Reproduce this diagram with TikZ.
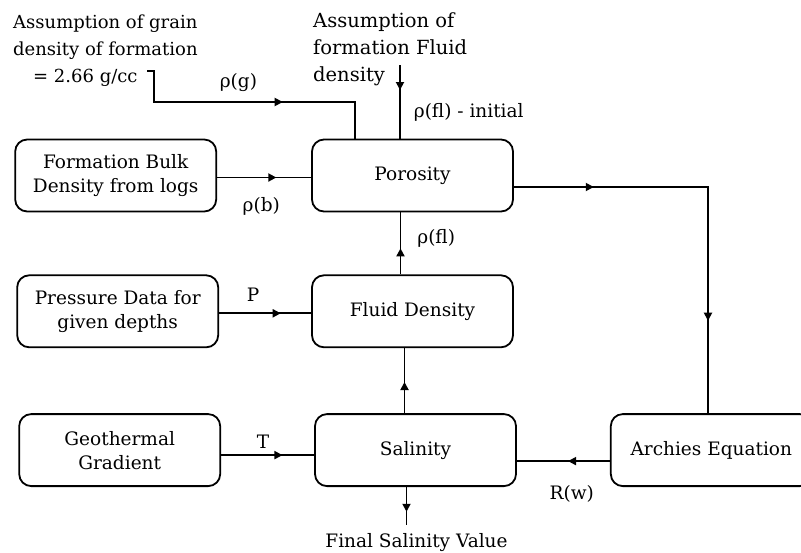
\documentclass[tikz,border=0pt]{standalone}
\usepackage{fontspec}
\setmainfont{DejaVu Serif}
\usetikzlibrary{positioning, arrows.meta, decorations.markings}
\newcommand{\midtip}{\arrow{Triangle[length=8pt, width=8pt]}}

\begin{document}
\begin{tikzpicture}[
        x=1pt, y=-1pt,
        font=\fontsize{18.5pt}{24pt}\selectfont,
        box/.style={draw, rounded corners=12pt, minimum width=201pt,
                    minimum height=72pt, align=center, line width=1.8pt, inner sep=2pt},
        line/.style={line width=1.8pt},
        flow/.style={postaction={decorate, decoration={markings,
                     mark=at position #1 with {\midtip}}}},
        lbl/.style={inner sep=1pt},
    ]
    \useasboundingbox (0,0) rectangle (801,552);
    \clip (0,0) rectangle (801,552);

    \node[box] (por) at (412.5,175.5) {Porosity};
    \node[box, below=62pt of por] (fluid) {Fluid Density};
    \node[box, below=65pt of fluid, xshift=3pt] (sal) {Salinity};
    \node[box, left=94pt of por] (bulk) {Formation Bulk\\Density from logs};
    \node[box, left=92pt of fluid] (press) {Pressure Data for\\given depths};
    \node[box, left=93pt of sal] (geo) {Geothermal\\Gradient};
    \node[box, right=93pt of sal] (arch) {Archies Equation};
    \node[lbl, below=45pt of sal, xshift=1pt] (final) {Final Salinity Value};

    \node[lbl, align=left, anchor=north west, font=\fontsize{18pt}{27pt}\selectfont] (grain) at (12,14)
        {Assumption of grain\\density of formation\\\hspace*{20pt}= 2.66 g/cc};
    \node[lbl, align=left, anchor=north west, font=\fontsize{19.5pt}{27pt}\selectfont] (fluidtxt) at (312,11)
        {Assumption of\\formation Fluid\\density};

    \coordinate (gstart) at (147,71);
    \coordinate (gturn) at (154,102);
    \coordinate (gdrop) at (355,102);
    \coordinate (fstart) at (400,65);
    \coordinate (pc) at (708,187);

    \draw[line, flow=0.605] (gstart) -| (gturn) -- node[lbl, above=8pt, pos=0.42] (lg) {ρ(g)} (gdrop) -- (gdrop |- por.north);
    \draw[line, flow=0.34] (fstart) -- node[lbl, right=12pt, pos=0.64] (lfi) {ρ(fl) - initial} (fstart |- por.north);
    \draw[line, flow=0.63] ([yshift=-2pt]bulk.east) -- node[lbl, below=18pt, pos=0.47] (lb) {ρ(b)} ([yshift=-2pt]bulk.east -| por.west);
    \draw[line, flow=0.67] ([yshift=-2pt]press.east) -- node[lbl, above=10pt, pos=0.37] (lp) {P} ([yshift=-2pt]press.east -| fluid.west);
    \draw[line, flow=0.66] ([yshift=-5pt]geo.east) -- node[lbl, above=5pt, pos=0.45] (lt) {T} ([yshift=-5pt]geo.east -| sal.west);
    \draw[line, flow=0.42] ([xshift=-12pt]fluid.north) -- node[lbl, right=15pt, pos=0.58] (lfl) {ρ(fl)} ([xshift=-12pt]fluid.north |- por.south);
    \draw[line, flow=0.48] ([xshift=-11pt]sal.north) -- ([xshift=-11pt]sal.north |- fluid.south);
    \draw[line, flow=0.19, flow=0.78] (por.east |- pc) -- (pc) -- (pc |- arch.north);
    \draw[line, flow=0.45] ([yshift=-11pt]arch.west) -- node[lbl, below=22pt, pos=0.41] (lr) {R(w)} ([yshift=-11pt]arch.west -| sal.east);
    \draw[line, flow=0.55, shorten >=7pt] ([xshift=-9pt]sal.south) -- ([xshift=-9pt]sal.south |- final.north);
\end{tikzpicture}
\end{document}
